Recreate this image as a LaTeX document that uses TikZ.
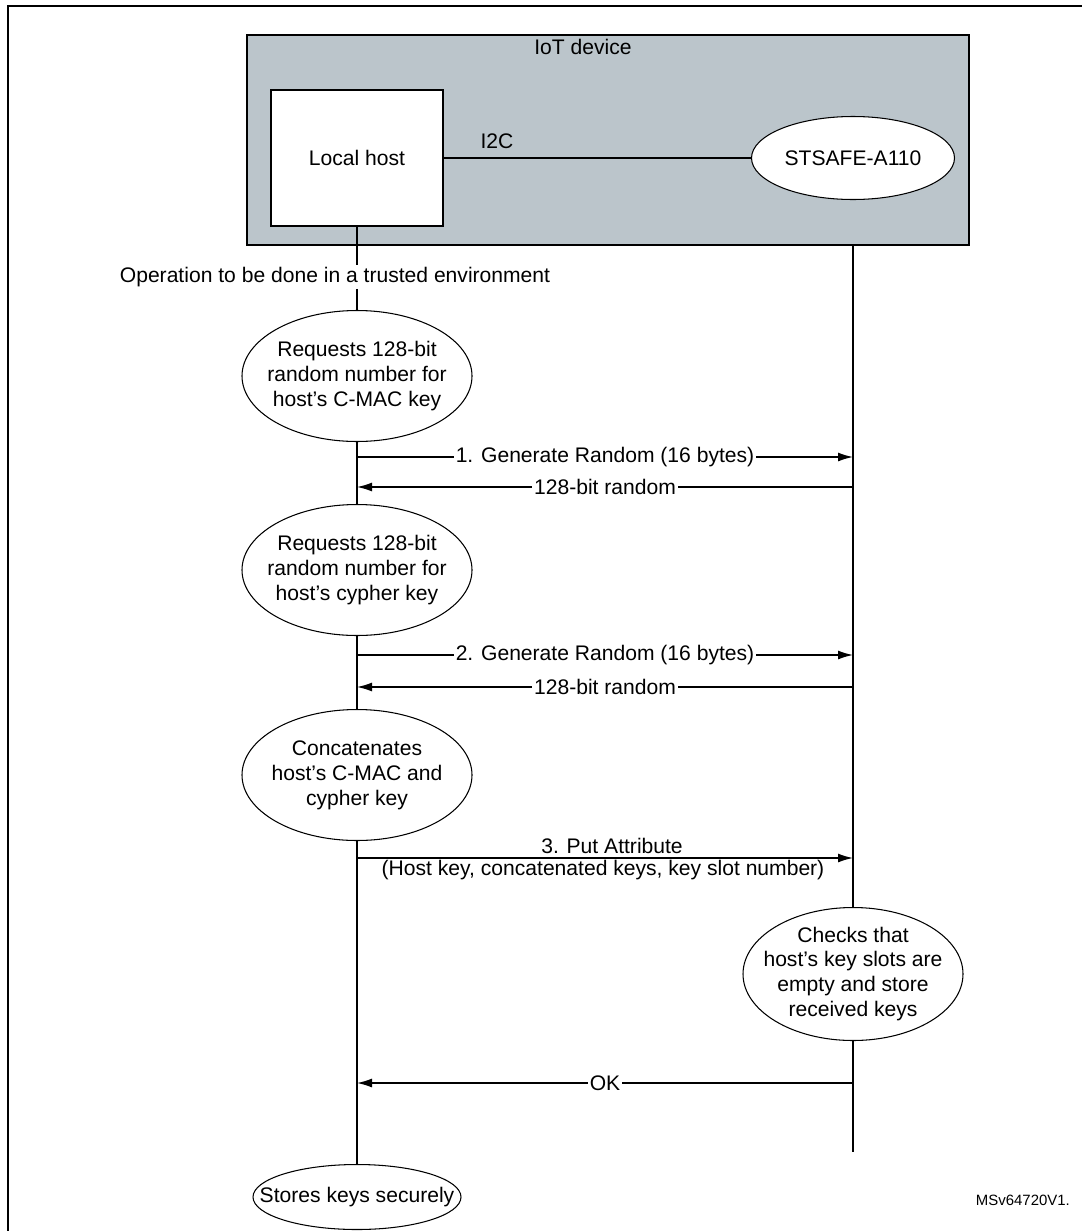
\documentclass[tikz,border=0pt]{standalone}
\usepackage{fontspec}
\setmainfont{Liberation Sans}
\usetikzlibrary{arrows.meta,shapes.geometric}
\definecolor{iotgray}{RGB}{187,197,203}
\tikzset{
    txt/.style={font=\fontsize{12}{14.2}\selectfont, inner sep=1pt},
    act/.style={ellipse, draw, line width=0.6pt, fill=white, align=center, txt,
        inner xsep=-0.3cm, inner ysep=-0.1cm, minimum width=4.6cm, minimum height=2.62cm},
    life/.style={line width=0.8pt},
    msg/.style={line width=0.8pt, -{Latex[length=3mm,width=1.8mm]}},
    msglbl/.style={txt, fill=white, inner xsep=1pt, inner ysep=0pt},
}
\begin{document}
\begin{tikzpicture}[scale=2]
    \useasboundingbox (0,0) rectangle (10.82,-12.31);
    \draw[line width=1.2pt] (0.08,-12.31) -- (0.08,-0.06) -- (10.82,-0.06);

    % IoT device
    \node[draw, line width=1.2pt, fill=iotgray, inner sep=0pt,
        minimum width=14.44cm, minimum height=4.2cm] (iot) at (6.08,-1.40) {};
    \node[txt] (iotlbl) at (5.83,-0.47) {IoT device};
    \node[draw, line width=0.6pt, fill=white, txt,
        minimum width=3.44cm, minimum height=2.72cm] (host) at (3.57,-1.58) {Local host};
    \node[ellipse, draw, line width=0.6pt, fill=white, txt, inner sep=0pt,
        minimum width=4.06cm, minimum height=1.66cm] (chip) at (8.53,-1.58) {STSAFE-A110};
    \draw[life] (host) -- (chip);
    \node[txt] (i2c) at (4.97,-1.41) {I2C};

    % steps
    \node[txt, fill=white] (op) at (3.35,-2.77) {Operation to be done in a trusted environment};
    \node[act] (e1) at (3.57,-3.76) {Requests 128-bit\\random number for\\host’s C-MAC key};
    \node[act] (e2) at (3.57,-5.70) {Requests 128-bit\\random number for\\host’s cypher key};
    \node[act] (e3) at (3.57,-7.75) {Concatenates\\host’s C-MAC and\\cypher key};
    \node[act, minimum width=4.4cm, minimum height=2.66cm] (e4) at (8.53,-9.74)
        {Checks that\\host’s key slots are\\empty and store\\received keys};
    \node[act, inner xsep=-0.6cm, minimum width=4.16cm, minimum height=1.3cm] (e5) at (3.57,-11.97)
        {Stores keys securely};

    % lifelines
    \coordinate (rtop) at (8.53,-2.45);
    \coordinate (rend) at (8.53,-11.52);
    \draw[life] (host.south) -- (host.south |- op.north);
    \draw[life] (e1.north |- op.south) -- (e1.north);
    \draw[life] (e1) -- (e2);
    \draw[life] (e2) -- (e3);
    \draw[life] (e3) -- (e5);
    \draw[life] (rtop) -- (e4);
    \draw[life] (e4) -- (rend);

    % messages
    \coordinate (m1l) at (3.57,-4.57);
    \coordinate (m1r) at (8.53,-4.57);
    \coordinate (m2l) at (3.57,-4.87);
    \coordinate (m2r) at (8.53,-4.87);
    \coordinate (m3l) at (3.57,-6.55);
    \coordinate (m3r) at (8.53,-6.55);
    \coordinate (m4l) at (3.57,-6.87);
    \coordinate (m4r) at (8.53,-6.87);
    \coordinate (m5l) at (3.57,-8.58);
    \coordinate (m5r) at (8.53,-8.58);
    \coordinate (m6l) at (3.57,-10.83);
    \coordinate (m6r) at (8.53,-10.83);
    \draw[msg] (m1l) -- (m1r) node[msglbl, midway] (lbl1) {1. Generate Random (16 bytes)};
    \draw[msg] (m2r) -- (m2l) node[msglbl, midway] (lbl2) {128-bit random};
    \draw[msg] (m3l) -- (m3r) node[msglbl, midway] (lbl3) {2. Generate Random (16 bytes)};
    \draw[msg] (m4r) -- (m4l) node[msglbl, midway] (lbl4) {128-bit random};
    \draw[msg] (m5l) -- (m5r);
    \node[msglbl, inner xsep=0.25cm, inner ysep=2pt] (put) at (6.12,-8.46) {3. Put Attribute};
    \node[txt] (putargs) at (6.03,-8.70) {(Host key, concatenated keys, key slot number)};
    \draw[msg] (m6r) -- (m6l) node[msglbl, midway] (lbl6) {OK};

    \node[font=\fontsize{8.5}{10}\selectfont, anchor=east] (msv) at (10.76,-12.0) {MSv64720V1.};
\end{tikzpicture}
\end{document}
